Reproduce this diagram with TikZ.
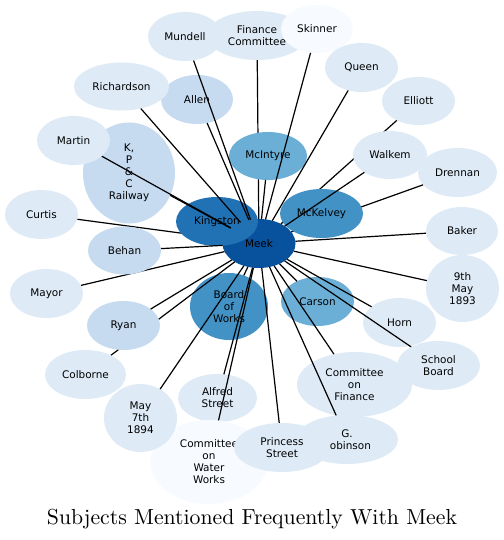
\documentclass[tikz,border=0pt]{standalone}
\usepackage{fontspec}
\usepackage{graphicx}
\usetikzlibrary{shapes.geometric}
\newfontfamily\dejavu{DejaVu Sans}
\definecolor{b0}{HTML}{F7FBFF}
\definecolor{b1}{HTML}{DEEBF7}
\definecolor{b2}{HTML}{C6DBEF}
\definecolor{b4}{HTML}{6BAED6}
\definecolor{b5}{HTML}{4292C6}
\definecolor{b6}{HTML}{2171B5}
\definecolor{b7}{HTML}{08519C}
\pgfdeclarelayer{nA}
\pgfdeclarelayer{eB}
\pgfdeclarelayer{nC}
\pgfdeclarelayer{eD}
\pgfsetlayers{nA,eB,nC,eD,main}
\tikzset{
  nd/.style={ellipse, draw=none, inner sep=0pt, outer sep=0pt, align=center,
    text=black, font=\dejavu\fontsize{10.5}{12}\selectfont},
  sz/.style 2 args={minimum width=#1bp, minimum height=#2bp},
  ed/.style={draw=black, line width=1.2bp},
}
\begin{document}
\begin{tikzpicture}[x=1bp, y=-1bp]
\useasboundingbox (0,0) rectangle (504,540);
\begin{pgfonlayer}{nA}
\fill[white] (0,0) rectangle (504,540);
\node[nd, sz={73}{49}, fill=b7] (meek) at (259,243.5) {Meek};
\node[nd, sz={73}{49}, fill=b4] (carson) at (317.5,301.5) {Carson};
\node[nd, sz={78}{67}, fill=b5] (bow) at (229,306.5) {Board\\of\\Works};
\node[nd, sz={92}{101}, fill=b2] (railway) at (129,173) {K,\\P\\\&\\C\\Railway};
\node[nd, sz={72}{49}, fill=b2] (allen) at (197,99.5) {Allen};
\node[nd, sz={73}{49}, fill=b1] (horn) at (399.5,322.5) {Horn};
\node[nd, sz={79}{48}, fill=b1] (alfred) at (217.5,398) {Alfred\\Street};
\node[nd, sz={115}{65}, fill=b1] (cof) at (354.5,384.5) {Committee\\on\\Finance};
\end{pgfonlayer}
\begin{pgfonlayer}{nC}
\node[nd, sz={83}{49}, fill=b5] (mckelvey) at (321.5,213.5) {McKelvey};
\node[nd, sz={74}{48}, fill=b1] (walkem) at (390,155) {Walkem};
\node[nd, sz={78}{48}, fill=b4] (mcintyre) at (268,156) {McIntyre};
\node[nd, sz={82}{49}, fill=b6] (kingston) at (217,221.5) {Kingston};
\node[nd, sz={73}{49}, fill=b2] (ryan) at (123.5,325.5) {Ryan};
\end{pgfonlayer}
\node[nd, sz={74}{49}, fill=b1] (mundell) at (185,36.5) {Mundell};
\node[nd, sz={100}{49}, fill=b1] (fc) at (257,35.5) {Finance\\Committee};
\node[nd, sz={72}{48}, fill=b0] (skinner) at (317,29) {Skinner};
\node[nd, sz={73}{49}, fill=b1] (queen) at (361.5,67.5) {Queen};
\node[nd, sz={73}{48}, fill=b1] (elliott) at (418.5,101) {Elliott};
\node[nd, sz={79}{49}, fill=b1] (drennan) at (457.5,172.5) {Drennan};
\node[nd, sz={72}{48}, fill=b1] (baker) at (462,231) {Baker};
\node[nd, sz={73}{67}, fill=b1] (ninth) at (462.5,288.5) {9th\\May\\1893};
\node[nd, sz={83}{49}, fill=b1] (school) at (438.5,365.5) {School\\Board};
\node[nd, sz={102}{49}, fill=b1] (grob) at (347,439.5) {G.\\Robinson};
\node[nd, sz={117}{84}, fill=b0] (coww) at (209,462) {Committee\\on\\Water\\Works};
\node[nd, sz={96}{49}, fill=b1] (princess) at (282,447.5) {Princess\\Street};
\node[nd, sz={73}{68}, fill=b1] (may7) at (140.5,418) {May\\7th\\1894};
\node[nd, sz={81}{49}, fill=b1] (colborne) at (85.5,374.5) {Colborne};
\node[nd, sz={73}{49}, fill=b1] (mayor) at (46.5,293.5) {Mayor};
\node[nd, sz={73}{49}, fill=b1] (curtis) at (41.5,214.5) {Curtis};
\node[nd, sz={73}{48}, fill=b2] (behan) at (124.5,250.5) {Behan};
\node[nd, sz={73}{49}, fill=b1] (martin) at (73.5,140.5) {Martin};
\node[nd, sz={95}{48}, fill=b1] (richardson) at (121.5,86.5) {Richardson};
\begin{pgfonlayer}{eB}
\foreach \t in {elliott,drennan,fc,curtis,colborne}
  \draw[ed] (meek) -- (\t);
\end{pgfonlayer}
\begin{pgfonlayer}{eD}
\foreach \t in {mundell,skinner,queen,walkem,baker,ninth,horn,school,cof,grob,princess,coww,alfred,may7,ryan,mayor,behan,railway,martin,richardson,allen,mcintyre,carson,bow}
  \draw[ed] (meek) -- (\t);
\end{pgfonlayer}
\node[anchor=base, inner sep=0pt] (title) at (252,524)
  {\resizebox{410bp}{!}{\rmfamily\fontsize{10}{12}\selectfont Subjects Mentioned Frequently With Meek}};
\end{tikzpicture}
\end{document}
